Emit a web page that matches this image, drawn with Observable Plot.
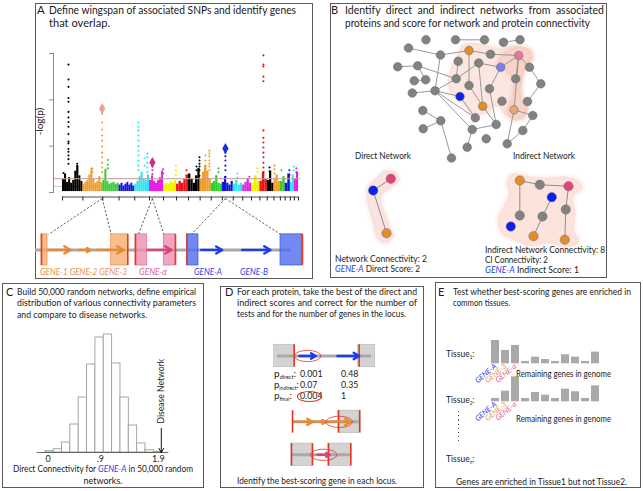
<!DOCTYPE html>
<html>
<head>
<meta charset="utf-8">
<script src="https://cdn.jsdelivr.net/npm/d3@7"></script>
<script src="https://cdn.jsdelivr.net/npm/@observablehq/plot@0.6"></script>
<style>
  html, body { margin: 0; padding: 0; background: #fff; }
  #fig { position: relative; width: 643px; height: 491px; overflow: hidden; background: #fff;
         font-family: Lato, "Open Sans", "DejaVu Sans", sans-serif; color: #1a1a1a; }
  .pnl { position: absolute; border: 1px solid #5a5a5a; box-sizing: border-box; }
  .t { position: absolute; white-space: nowrap; line-height: 1; }
  .pl { position: absolute; }
  .pl svg { overflow: visible; display: block; }
  sub { font-size: 55%; vertical-align: -0.35em; line-height: 0; }
</style>
</head>
<body>
<div id="fig"></div>
<script>
// ================= DATA =================
// Panel A — Manhattan plot
const chromosomes = d3.range(1, 23);
const chromLengthsMb = [249.3, 243.2, 198.0, 191.2, 180.9, 171.1, 159.1, 146.4, 141.2, 135.5, 135.0,
                        133.9, 115.2, 107.3, 102.5, 90.4, 81.2, 78.1, 59.1, 63.0, 48.1, 51.3];
const chromPalette = ["#000000", "#f59a23", "#2ed12a", "#1414d8", "#33e4f2", "#e41ee0", "#f2f200", "#e81414"];
// background (non-significant) SNP cloud: top -log(p) along each chromosome
const noiseTops = [
  [1.4, 2.0, 1.1, 1.6, 1.0, 1.3, 2.3, 2.9, 1.8, 1.2],
  [0.9, 1.1, 1.3, 1.9, 2.6, 1.4, 1.0, 1.2, 1.7, 1.1],
  [1.3, 2.5, 1.2, 0.9, 1.0, 1.1, 0.9, 1.0],
  [0.8, 1.0, 0.7, 0.9, 1.1, 0.8, 1.0, 0.7],
  [0.9, 1.2, 1.7, 2.2, 1.5, 1.3, 1.9],
  [1.3, 1.8, 1.2, 1.0, 1.3, 1.6, 2.3],
  [0.8, 1.0, 0.9, 1.2, 1.0, 1.3],
  [0.9, 1.2, 1.0, 1.4, 1.9],
  [2.0, 1.4, 1.0, 1.8, 2.6],
  [1.4, 2.2, 2.9, 2.3, 1.4],
  [1.0, 1.2, 1.8, 1.0, 0.9],
  [1.1, 1.7, 1.0, 0.8, 1.2],
  [0.9, 1.3, 0.8, 1.0],
  [0.8, 1.1, 1.5, 1.0],
  [1.0, 1.8, 1.2],
  [1.2, 2.2, 1.4],
  [1.3, 2.3, 1.0],
  [1.5, 1.9, 1.2],
  [1.2, 1.7],
  [1.0, 2.0],
  [1.1, 1.9],
  [1.4, 2.2]
];
// individual SNP columns: [chromosome, position (Mb), -log(p) values]
const snpColumns = [
  [1, 73, [13.8, 12.2, 11.4, 10.2, 9.8, 8.7, 8.1, 7.6, 7.1, 6.3, 5.5, 5.3, 4.7, 4.4, 4.0, 3.6, 3.1]],
  [1, 180, [3.1, 2.8, 2.5, 2.2]],
  [1, 12, [2.1]],
  [2, 235, [8.5, 7.55, 6.8, 6.15, 5.6, 4.96, 4.3, 3.8, 3.2, 2.7, 2.2]],
  [2, 115, [2.6, 2.2]],
  [3, 60, [3.5, 3.0, 2.6]],
  [5, 45, [7.55, 7.1, 6.7, 6.15, 5.6, 5.0, 4.5, 4.0, 3.45, 2.9, 2.4]],
  [5, 120, [3.7, 2.9]],
  [5, 155, [4.2, 3.8, 3.2, 2.7, 2.2]],
  [6, 35, [2.8, 2.4, 2.0]],
  [6, 165, [2.5, 2.05]],
  [7, 150, [2.9, 2.4, 1.9]],
  [8, 121, [2.4, 1.8]],
  [9, 97, [2.8, 2.4]],
  [9, 133, [3.8, 3.45, 3.1, 2.8, 2.4, 1.8]],
  [10, 65, [4.0, 3.45, 2.9, 2.4]],
  [10, 113, [4.5, 4.2, 3.9, 3.45, 3.1, 2.8, 2.4]],
  [11, 88, [2.6, 2.2]],
  [12, 38, [4.3, 3.9, 3.45, 2.9, 2.4, 1.7]],
  [13, 51, [2.05, 1.6]],
  [14, 82, [1.7]],
  [15, 72, [2.6, 2.2]],
  [16, 43, [14.8, 13.8, 13.6, 12.5, 12.0, 6.7, 5.9, 5.4, 4.85, 4.3, 3.8, 3.2, 2.7, 2.2]],
  [17, 28, [2.7, 2.3]],
  [18, 6, [2.9, 2.5, 2.05]],
  [19, 14, [2.4]],
  [20, 51, [2.4, 1.9]],
  [21, 40, [2.8, 2.4]],
  [22, 25, [2.6, 2.2]]
];
const leadChrom = [2, 6, 12];
const leadPosMb = [235, 35, 38];
const leadLogP = [9.06, 3.24, 4.75];
const leadColors = ["#eba08a", "#cf2b87", "#1431d2"];
const thresholdLogP = [0.65, 1.5];
const thresholdColors = ["#cdcdcd", "#c99f98"];
const yTicksLogP = [0, 5, 10, 15];

// Panel A — locus diagram (schematic units 0–100 across the panel)
const locusBoxLeft = [[2.16, 4.32], [35.97, 40.18], [54.5, 58.63]];
const locusBoxRight = [[27.23, 33.2], [46.15, 50.36], [88.13, 96.04]];
const locusWingspan = [[4.7, 27.23], [37.0, 46.15], [56.1, 88.13]];
const locusBackbone = [0, 92.1];
const geneNames = ["GENE-1", "GENE-2", "GENE-3", "GENE-α", "GENE-A", "GENE-B"];
const geneLocus = [0, 0, 0, 1, 2, 2];
const geneStart = [4.68, 15.47, 22.3, 40.29, 59.6, 74.35];
const geneEnd = [12.59, 19.78, 31.65, 48.92, 67.16, 84.53];
const locusArrowColors = ["#e58b35", "#d6457b", "#1b3cf2"];
const locusBoxColors = ["#f8ac70", "#ec8fb0", "#4f6cef"];
const locusBoxEdge = ["#ee8a48", "#e06b95", "#3355e6"];
const locusTextColors = ["#e8924a", "#e0628e", "#2b3ee6"];

// Panel B — networks (layout coordinates)
const netNodeX = [78, 95.5, 125, 154, 173, 189.5, 110, 138.5, 160, 188.2, 87.2, 67.2, 127.7, 148.2, 170.2, 199,
  83.7, 95.2, 125.7, 185.2, 210.3, 138.5, 159, 81.8, 104.5, 129.5, 152.2, 171.5, 197, 92.3, 110.3, 144.8,
  183.6, 202.3, 92.7, 141.7, 165.7, 192.3, 155.7, 136.7, 176.7, 121];
const netNodeY = [44.5, 36.3, 36.3, 36.3, 38.7, 36.3, 51.5, 47, 50.7, 52, 62.3, 63.3, 57.8, 59.5, 63.7, 63.7,
  77.3, 76.2, 75.3, 75.3, 80.3, 82, 85.3, 89.5, 87.3, 93, 102.7, 97.7, 98, 107, 117.3, 114.3,
  106.3, 112, 125.3, 126, 121, 127, 135.3, 143.7, 140.3, 154.5];
const netNodeKind = ["g","g","g","g","g","g","g","o","g","p","g","g","g","g","v","g",
  "g","g","g","g","g","g","g","g","g","b","o","g","g","g","g","g",
  "lo","g","g","g","g","g","g","g","g","g"];
const netEdges = [[0,6],[6,7],[6,24],[7,8],[7,21],[8,9],[2,3],[4,5],[10,17],[11,10],[10,18],[16,17],
  [23,24],[24,18],[18,13],[13,14],[13,26],[14,9],[9,19],[9,32],[14,22],[15,20],[9,15],[22,36],
  [24,25],[24,31],[24,35],[25,31],[26,36],[32,33],[32,40],[37,33],[40,37],[29,30],[34,30],[30,41],
  [35,36],[39,35],[20,28],[21,26],[12,18]];
const blobMain = [[132,41],[150,40],[167,44],[182,42],[197,45],[201,55],[194,69],[192,87],[197,105],
  [190,115],[176,113],[166,103],[156,110],[142,111],[132,101],[122,93],[117,80],[120,65],[126,53]];
const blobHub = [[167,57],[176,47],[188,43],[200,46],[203,55],[196,63],[191,79],[191,95],[198,103],
  [194,115],[181,116],[176,107],[181,93],[182,77],[176,69],[168,65]];
const directNodeX = [60.3, 42.7, 56];
const directNodeY = [175.3, 187, 229.7];
const directNodeKind = ["p2", "b", "o"];
const directEdges = [[0,1],[1,2]];
const blobDirect = [[54,167],[66,169],[69,177],[60,185],[51,193],[60,223],[63,233],[56,240],[47,236],
  [42,219],[36,195],[37,183],[45,175]];
const indirectNodeX = [189.3, 209.3, 238, 221.3, 235.3, 189.3, 212, 180.3, 203, 234.3];
const indirectNodeY = [177, 181.3, 182.7, 193.7, 206, 212, 213, 223, 232.7, 236.3];
const indirectNodeKind = ["o","g","p2","b","g","g","g","b","o","o"];
const indirectEdges = [[0,1],[1,2],[2,4],[4,9],[0,5],[3,6],[6,8]];
const blobIndirect = [[182,170],[200,173],[218,174],[235,173],[248,177],[252,185],[243,193],[245,209],
  [244,227],[249,238],[236,244],[218,240],[200,243],[184,237],[171,230],[167,215],[173,202],[178,190],[176,178]];
const kindColors = {g: "#828282", o: "#e08d2e", p: "#e2789a", p2: "#e0457a", v: "#7b80e8", b: "#0a1ff2", lo: "#e4a47c"};

// Panel C — histogram of direct connectivity in 50,000 random networks
const histBinEdges = [-0.05, 0.094, 0.238, 0.382, 0.526, 0.67, 0.814, 0.958, 1.102, 1.246, 1.39, 1.534, 1.678, 1.822, 1.966];
const histCounts = [108, 274, 831, 2327, 4571, 7314, 9558, 9807, 7397, 4571, 2244, 748, 191, 58];
const histTickValues = [0, 0.9, 1.9];
const histTickLabels = ["0", ".9", "1.9"];
const histAxisExtent = [-0.19, 2.08];
const diseaseNetworkValue = 1.95;
const diseaseArrowTopCount = 2000;

// Panel D — best-scoring gene per locus
const dRows = [0, 2, 3];
const dBoxes = [{row: 0, x1: 3.5, x2: 22.6}, {row: 0, x1: 83.5, x2: 99.7}, {row: 2, x1: 64.8, x2: 84.5},
  {row: 3, x1: 20, x2: 40}, {row: 3, x1: 55.2, x2: 76.5}];
const dBackbones = [{row: 0, x1: 6.7, x2: 96.2}, {row: 2, x1: 21, x2: 84.5}, {row: 3, x1: 20, x2: 76.5}];
const dRedLines = [{row: 0, x: 22.6}, {row: 0, x: 84.5}, {row: 2, x: 21}, {row: 2, x: 64.8}, {row: 2, x: 85},
  {row: 3, x: 20}, {row: 3, x: 40}, {row: 3, x: 55.2}, {row: 3, x: 76.5}];
const dGenes = [{row: 0, x1: 27.6, x2: 43.1, locus: 2, best: true}, {row: 0, x1: 63.8, x2: 84.5, locus: 2},
  {row: 2, x1: 22.6, x2: 40, locus: 0}, {row: 2, x1: 41.6, x2: 52.7, locus: 0},
  {row: 2, x1: 54.3, x2: 76.5, locus: 0, best: true}, {row: 3, x1: 44.8, x2: 56.5, locus: 1, best: true}];
const pRowLabels = ["direct", "indirect", "final"];
const pValues = [[0.001, 0.48], [0.07, 0.35], [0.004, 1]];

// Panel E — tissue expression
const tissueGenes = d3.range(11);
const tissue1Expr = [7.0, 4.0, 5.5, 0.7, 2.0, 1.3, 0.7, 2.7, 2.0, 0.7, 3.5];
const tissue2Expr = [1.0, 3.2, 7.5, 1.0, 2.8, 2.0, 1.0, 3.8, 3.0, 1.0, 4.8];
const labeledGenes = ["GENE-A", "GENE-3", "GENE-α"];
const labeledGeneColors = ["#2b3ee6", "#e8924a", "#e0628e"];

// ================= HELPERS =================
const fig = document.getElementById("fig");
const FONT = "Lato, 'Open Sans', sans-serif";
function panel(x, y, w, h) {
  const d = document.createElement("div"); d.className = "pnl";
  Object.assign(d.style, {left: x + "px", top: y + "px", width: w + "px", height: h + "px"});
  fig.appendChild(d);
}
function mount(svg, x, y, w) {
  const d = document.createElement("div"); d.className = "pl";
  Object.assign(d.style, {left: x + "px", top: y + "px", width: w + "px"});
  d.appendChild(svg); fig.appendChild(d);
}
function T(x, yc, html, size, opt = {}) {
  const d = document.createElement("div"); d.className = "t"; d.innerHTML = html;
  d.style.fontSize = size + "px"; d.style.left = x + "px"; d.style.top = (yc - 0.56 * size) + "px";
  if (opt.color) d.style.color = opt.color;
  if (opt.italic) d.style.fontStyle = "italic";
  fig.appendChild(d);
  const m = d.getBoundingClientRect().width;
  let w = m;
  if (opt.w) {
    w = opt.w;
    if (opt.justify && m < opt.w) {
      const spaces = (d.textContent.match(/ /g) || []).length;
      if (spaces) d.style.wordSpacing = ((opt.w - m) / spaces) + "px";
    } else {
      d.style.transformOrigin = "0 50%";
      d.style.transform = `scaleX(${opt.w / m})`;
    }
  }
  if (opt.cx != null) d.style.left = (opt.cx - w / 2) + "px";
  if (opt.rotate) {
    d.style.left = (x - m / 2) + "px";
    d.style.transformOrigin = `${m / 2}px ${0.56 * size}px`;
    d.style.transform = `rotate(${opt.rotate}deg)`;
  }
  return d;
}
const baseStyle = {background: "transparent", overflow: "visible", fontFamily: FONT};

// ================= PANEL FRAMES =================
panel(35, 3, 278, 276);   // A
panel(330, 3, 277, 275);  // B
panel(2, 283, 202, 205);  // C
panel(220, 286, 204, 202);// D
panel(435, 282, 206, 206);// E

// ================= PANEL A =================
const chromStart = []; let acc = 0;
chromLengthsMb.forEach(l => { chromStart.push(acc); acc += l; });
const genomeLen = acc;
const gpos = (c, mb) => chromStart[c - 1] + mb;
const chromColor = c => chromPalette[(c - 1) % chromPalette.length];
const chromBoundaries = [...chromStart, genomeLen];

const noiseRects = [];
noiseTops.forEach((tops, i) => {
  const n = tops.length, L = chromLengthsMb[i];
  tops.forEach((t, j) => noiseRects.push({x1: chromStart[i] + L * j / n, x2: chromStart[i] + L * (j + 1) / n, top: t, col: chromColor(i + 1)}));
});
const snpDots = snpColumns.flatMap(([c, mb, vals]) => vals.map(v => ({g: gpos(c, mb), v, col: chromColor(c)})));
const leads = leadChrom.map((c, i) => ({g: gpos(c, leadPosMb[i]), v: leadLogP[i], col: leadColors[i]}));

const man = Plot.plot({
  width: 278, height: 165, marginLeft: 18, marginRight: 13, marginTop: 13, marginBottom: 13,
  style: baseStyle,
  x: {domain: [0, genomeLen], insetLeft: 9, insetRight: 2},
  y: {domain: [0, 15]},
  marks: [
    Plot.ruleY([thresholdLogP[0]], {stroke: thresholdColors[0], strokeWidth: 1}),
    Plot.rect(noiseRects, {x1: "x1", x2: "x2", y1: 0.1, y2: "top", fill: "col"}),
    Plot.dot(snpDots, {x: "g", y: "v", r: 1.05, fill: "col"}),
    Plot.dot(leads, {x: "g", y: "v", r: 3.3, symbol: "diamond", fill: "col"}),
    Plot.ruleY([thresholdLogP[1]], {stroke: thresholdColors[1], strokeWidth: 1.2, strokeOpacity: 0.85}),
    Plot.frame({anchor: "left", stroke: "#8a8a8a"}),
    Plot.axisY({ticks: yTicksLogP, tickSize: 4, tickFormat: () => "", stroke: "#8a8a8a"}),
    Plot.ruleY([0], {x1: 0, x2: genomeLen, dy: 4.5, stroke: "#222", strokeWidth: 0.8}),
    Plot.axisX({ticks: chromBoundaries, tickSize: 4, tickFormat: () => "", dy: 4.5, stroke: "#222"})
  ]
});
mount(man, 35, 40, 278);

// locus diagram
const mx = man.scale("x");
const lx = Plot.scale({x: {domain: [0, 100], range: [0, 278]}});
const locusLinks = [];
leadChrom.forEach((c, i) => {
  const top = lx.invert(mx.apply(gpos(c, leadPosMb[i])));
  locusLinks.push({x1: top, x2: locusWingspan[i][0]}, {x1: top, x2: locusWingspan[i][1]});
});
const locusBoxes = [];
locusBoxLeft.forEach((b, i) => locusBoxes.push({x1: b[0], x2: b[1], l: i}));
locusBoxRight.forEach((b, i) => locusBoxes.push({x1: b[0], x2: b[1], l: i}));
const locusRed = [...locusBoxLeft.map(b => b[0]), ...locusBoxRight.map(b => b[1])];
const genes = geneNames.map((n, i) => ({n, x1: geneStart[i], x2: geneEnd[i], l: geneLocus[i]}));
const locusY = [-1, 3.3];
const locusPlot = Plot.plot({
  width: 278, height: 75, margin: 0, style: baseStyle,
  x: {domain: [0, 100], range: [0, 278], axis: null},
  y: {domain: locusY, range: [68, 1], axis: null},
  marks: [
    Plot.link(locusLinks, {x1: "x1", x2: "x2", y1: locusY[1], y2: 1, stroke: "#333", strokeWidth: 0.8, strokeDasharray: "2.2,1.8"}),
    Plot.ruleY([0], {x1: locusBackbone[0], x2: locusBackbone[1], stroke: "#a9a9a9", strokeWidth: 3}),
    Plot.rect(locusBoxes, {x1: "x1", x2: "x2", y1: -1, y2: 1, fill: d => locusBoxColors[d.l], fillOpacity: 0.8, stroke: d => locusBoxEdge[d.l], strokeWidth: 0.7}),
    Plot.ruleX(locusRed, {y1: -1, y2: 1, stroke: "#e0401f", strokeWidth: 1.6}),
    Plot.arrow(genes, {x1: "x1", x2: "x2", y1: 0, y2: 0, stroke: d => locusArrowColors[d.l], strokeWidth: 2.4, headLength: 4.5})
  ]
});
mount(locusPlot, 35, 197, 278);

// ================= PANEL B =================
const mkNodes = (X, Y, K) => X.map((x, i) => ({x, y: Y[i], k: K[i]}));
const mkEdges = (nodes, E) => E.map(([a, b]) => ({x1: nodes[a].x, y1: nodes[a].y, x2: nodes[b].x, y2: nodes[b].y}));
const topNodes = mkNodes(netNodeX, netNodeY, netNodeKind);
const dirNodes = mkNodes(directNodeX, directNodeY, directNodeKind);
const indNodes = mkNodes(indirectNodeX, indirectNodeY, indirectNodeKind);
const blob = (pts, fill, op) => Plot.line(pts, {x: d => d[0], y: d => d[1], curve: "catmull-rom-closed", fill, fillOpacity: op, stroke: fill, strokeOpacity: op * 0.3, strokeWidth: 6, strokeLinejoin: "round"});
const net = Plot.plot({
  width: 277, height: 275, margin: 0, style: baseStyle,
  x: {domain: [0, 277], range: [0, 277], axis: null},
  y: {domain: [0, 275], range: [0, 275], axis: null},
  marks: [
    blob(blobMain, "#f7cfc1", 0.5),
    blob(blobHub, "#f2bcab", 0.45),
    blob(blobDirect, "#f6d8d4", 0.7),
    blob(blobIndirect, "#fad6ca", 0.65),
    Plot.link(mkEdges(topNodes, netEdges), {x1: "x1", y1: "y1", x2: "x2", y2: "y2", stroke: "#8d8d8d", strokeWidth: 0.9}),
    Plot.link(mkEdges(dirNodes, directEdges), {x1: "x1", y1: "y1", x2: "x2", y2: "y2", stroke: "#8d8d8d", strokeWidth: 1}),
    Plot.link(mkEdges(indNodes, indirectEdges), {x1: "x1", y1: "y1", x2: "x2", y2: "y2", stroke: "#8d8d8d", strokeWidth: 1}),
    Plot.dot(topNodes, {x: "x", y: "y", r: 4.3, fill: d => kindColors[d.k], stroke: "#5e5e5e", strokeWidth: 0.5}),
    Plot.dot([...dirNodes, ...indNodes], {x: "x", y: "y", r: 4.7, fill: d => kindColors[d.k], stroke: "#5e5e5e", strokeWidth: 0.4})
  ]
});
mount(net, 330, 3, 277);

// ================= PANEL C =================
const bins = histCounts.map((c, i) => ({x1: histBinEdges[i], x2: histBinEdges[i + 1], c}));
const hist = Plot.plot({
  width: 202, height: 205, margin: 0, style: baseStyle,
  x: {domain: [0, 1.9], range: [45.7, 155.9], axis: null},
  y: {domain: [0, 10000], range: [169, 48.7], axis: null},
  marks: [
    Plot.rect(bins, {x1: "x1", x2: "x2", y1: 0, y2: "c", fill: "white", stroke: "#9d9d9d", strokeWidth: 0.9}),
    Plot.ruleY([0], {x1: histAxisExtent[0], x2: histAxisExtent[1], stroke: "#444", strokeWidth: 0.8}),
    Plot.text(histTickValues, {x: d => d, y: 0, text: (d, i) => histTickLabels[i], dy: 7, fontSize: 9, fill: "#222"}),
    Plot.arrow([diseaseNetworkValue], {x1: d => d, x2: d => d, y1: diseaseArrowTopCount, y2: 0, stroke: "#111", strokeWidth: 1, headLength: 7}),
    Plot.text(["Disease Network"], {x: diseaseNetworkValue, y: diseaseArrowTopCount, rotate: -90, textAnchor: "start", dy: -5, fontSize: 8.6, fill: "#222"})
  ]
});
mount(hist, 2, 283, 202);

// ================= PANEL D =================
const ellipseSymbol = {
  draw(ctx, size) {
    const ry = Math.sqrt(size / Math.PI), rx = ry * 2.35, k = 0.5523;
    ctx.moveTo(rx, 0);
    ctx.bezierCurveTo(rx, k * ry, k * rx, ry, 0, ry);
    ctx.bezierCurveTo(-k * rx, ry, -rx, k * ry, -rx, 0);
    ctx.bezierCurveTo(-rx, -k * ry, -k * rx, -ry, 0, -ry);
    ctx.bezierCurveTo(k * rx, -ry, rx, -k * ry, rx, 0);
    ctx.closePath();
  }
};
const halfH = 0.34;
const dPlot = Plot.plot({
  width: 204, height: 202, margin: 0, style: baseStyle,
  x: {domain: [0, 100], range: [50, 155], axis: null},
  y: {domain: [0, 3], range: [69.5, 168.3], axis: null},
  marks: [
    Plot.rect(dBoxes, {x1: "x1", x2: "x2", y1: d => d.row - halfH, y2: d => d.row + halfH, fill: "#d3d3d3", stroke: "#bababa", strokeWidth: 0.7}),
    Plot.ruleY(dBackbones, {x1: "x1", x2: "x2", y: "row", stroke: "#a9a9a9", strokeWidth: 3}),
    Plot.ruleX(dRedLines, {x: "x", y1: d => d.row - halfH, y2: d => d.row + halfH, stroke: "#e0351f", strokeWidth: 1.6}),
    Plot.arrow(dGenes, {x1: "x1", x2: "x2", y1: "row", y2: "row", stroke: d => locusArrowColors[d.locus], strokeWidth: 2.4, headLength: 4}),
    Plot.dot(dGenes.filter(d => d.best), {x: d => (d.x1 + d.x2) / 2, y: "row", symbol: ellipseSymbol, r: 5.6, fill: "none", stroke: "#e0351f", strokeWidth: 0.8})
  ]
});
mount(dPlot, 220, 286, 204);

// ================= PANEL E =================
function tissuePlot(expr) {
  const genesRows = expr.map((v, i) => ({g: tissueGenes[i], v}));
  return Plot.plot({
    width: 125, height: 34, margin: 0, style: baseStyle,
    x: {type: "band", domain: tissueGenes, range: [6.3, 122.6], paddingInner: 0.23, paddingOuter: 0, axis: null},
    y: {domain: [0, 7.5], range: [33.3, 8.3], axis: null},
    marks: [
      Plot.barY(genesRows, {x: "g", y: "v", fill: "#a9a9a9"}),
      Plot.text(labeledGenes, {x: (d, i) => tissueGenes[i], y: 0, text: d => d, rotate: -40, textAnchor: "end",
        fill: (d, i) => labeledGeneColors[i], fontStyle: "italic", fontSize: 7.4, dy: 1.5})
    ]
  });
}
mount(tissuePlot(tissue1Expr), 480, 330, 125);
mount(tissuePlot(tissue2Expr), 480, 368.4, 125);

// ================= TEXT =================
// A
T(37, 10.5, "A", 11.5);
T(49, 10.5, "Define wingspan of associated SNPs and identify genes", 11, {w: 247});
T(49, 23.5, "that overlap.", 11, {w: 61});
T(40, 122, "-log(p)", 10, {rotate: -90});
T(40, 272, "GENE-1 GENE-2 GENE-3", 9, {italic: true, color: locusTextColors[0], w: 87});
T(139, 272, "GENE-α", 9, {italic: true, color: locusTextColors[1], w: 28});
T(194, 272, "GENE-A", 9, {italic: true, color: locusTextColors[2], w: 28});
T(240, 272, "GENE-B", 9, {italic: true, color: locusTextColors[2], w: 28});
// B
T(331, 10.5, "B", 11);
T(345, 10.5, "Identify direct and indirect networks from associated", 10.5, {w: 259, justify: true});
T(345, 23.5, "proteins and score for network and protein connectivity", 10.5, {w: 245});
T(355, 156, "Direct Network", 9, {w: 56});
T(513, 156, "Indirect Network", 9, {w: 62});
T(335, 259.5, "Network Connectivity: 2", 9, {w: 92});
T(335, 269.5, "<i style='color:#2b3ee6'>GENE-A</i> Direct Score: 2", 9, {w: 85});
T(485, 250.5, "Indirect Network Connectivity: 8", 9, {w: 120});
T(485, 260, "CI Connectivity: 2", 9, {w: 63});
T(485, 270, "<i style='color:#2b3ee6'>GENE-A</i> Indirect Score: 1", 9, {w: 94});
// C
T(6, 292, "C", 11);
T(17, 292, "Build 50,000 random networks, define empirical", 9, {w: 179, justify: true});
T(17, 303.5, "distribution of various connectivity parameters", 9, {w: 179, justify: true});
T(17, 315.5, "and compare to disease networks.", 9, {w: 130});
T(13, 469.5, "Direct Connectivity for <i style='color:#2b3ee6'>GENE-A</i> in 50,000 random", 9, {w: 180});
T(0, 481, "networks.", 9, {cx: 103});
// D
T(225, 292, "D", 11);
T(237, 292, "For each protein, take the best of the direct and", 9, {w: 180, justify: true});
T(237, 303, "indirect scores and correct for the number of", 9, {w: 180, justify: true});
T(237, 314.3, "tests and for the number of genes in the locus.", 9, {w: 169});
const pRowY = [374.5, 385.5, 396.8];
const pColX = [300, 341];
const pLabelW = [22, 25, 18];
pRowLabels.forEach((lab, r) => {
  T(273.7, pRowY[r], `p<sub>${lab}</sub>:`, 8.8, {w: pLabelW[r]});
  pValues[r].forEach((v, c) => T(pColX[c], pRowY[r], String(v), 8.8));
});
{ const e = document.createElement("div");
  Object.assign(e.style, {position: "absolute", left: "297px", top: "391.4px", width: "25px", height: "10.6px",
    border: "1px solid #d9321e", borderRadius: "50%", boxSizing: "border-box"});
  fig.appendChild(e); }
T(237, 481, "Identify the best-scoring gene in each locus.", 9, {w: 160});
// E
T(438, 292.3, "E", 11);
T(453, 292.3, "Test whether best-scoring genes are enriched in", 9, {w: 178, justify: true});
T(453, 303.5, "common tissues.", 9, {w: 57});
T(446, 355, "Tissue<sub>1</sub>:", 8.5);
T(446, 401, "Tissue<sub>2</sub>:", 8.5);
T(446, 460, "Tissue<sub>n</sub>:", 8.5);
T(516.3, 375, "Remaining genes in genome", 8.5, {w: 95});
T(516.3, 420, "Remaining genes in genome", 8.5, {w: 95});
{ const e = document.createElement("div");
  Object.assign(e.style, {position: "absolute", left: "457.5px", top: "411px", width: "1.3px", height: "30px",
    background: "repeating-linear-gradient(to bottom, #555 0 1.3px, transparent 1.3px 4.2px)"});
  fig.appendChild(e); }
T(456, 481.7, "Genes are enriched in Tissue1 but not Tissue2.", 9, {w: 171});
</script>
</body>
</html>
